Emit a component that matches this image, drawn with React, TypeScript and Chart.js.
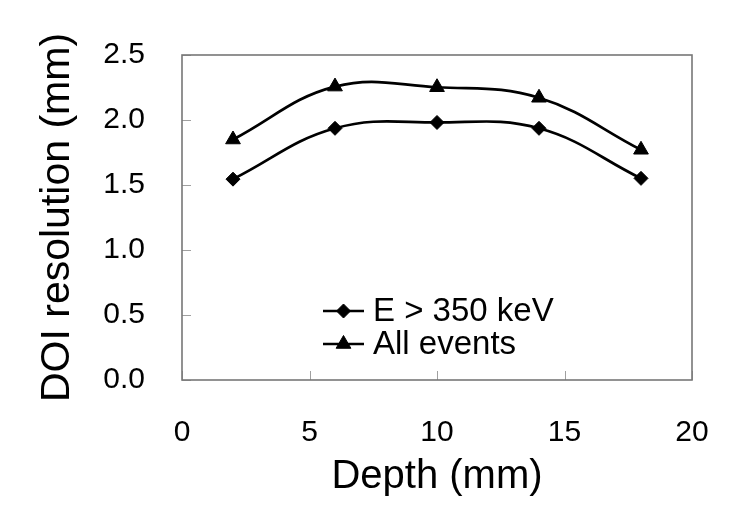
import React, { useEffect, useRef } from "react";
import { Chart, registerables } from "chart.js";

Chart.register(...registerables);

const depths = [2, 6, 10, 14, 18];
const highEnergy = [1.545, 1.936, 1.981, 1.936, 1.551];
const allEvents = [1.85, 2.257, 2.252, 2.171, 1.771];
const seriesLabels = ["E > 350 keV", "All events"];
const xTitle = "Depth (mm)";
const yTitle = "DOI resolution (mm)";

const FONT = "'Liberation Sans', Arial, sans-serif";

function drawMarker(ctx: CanvasRenderingContext2D, style: string, r: number, x: number, y: number) {
  ctx.beginPath();
  if (style === "rectRot") {
    ctx.moveTo(x, y - r);
    ctx.lineTo(x + r, y);
    ctx.lineTo(x, y + r);
    ctx.lineTo(x - r, y);
  } else {
    const a = -Math.PI / 2;
    for (let k = 0; k < 3; k++) {
      const ang = a + (k * 2 * Math.PI) / 3;
      const px = x + Math.cos(ang) * r;
      const py = y + Math.sin(ang) * r;
      if (k === 0) ctx.moveTo(px, py);
      else ctx.lineTo(px, py);
    }
  }
  ctx.closePath();
  ctx.fill();
  ctx.stroke();
}

const framePlugin = {
  id: "frameAndTicks",
  beforeDatasetsDraw(chart: any) {
    const { ctx, chartArea } = chart;
    const xs = chart.scales.x;
    const ys = chart.scales.y;
    ctx.save();
    ctx.strokeStyle = "#a0a0a0";
    ctx.lineWidth = 1;
    xs.ticks.forEach((t: any) => {
      const px = Math.round(xs.getPixelForValue(t.value)) + 0.5;
      ctx.beginPath();
      ctx.moveTo(px, chartArea.bottom);
      ctx.lineTo(px, chartArea.bottom - 9);
      ctx.stroke();
    });
    ys.ticks.forEach((t: any) => {
      const py = Math.round(ys.getPixelForValue(t.value)) + 0.5;
      ctx.beginPath();
      ctx.moveTo(chartArea.left, py);
      ctx.lineTo(chartArea.left + 9, py);
      ctx.stroke();
    });
    ctx.strokeStyle = "#777777";
    ctx.lineWidth = 1.6;
    ctx.strokeRect(chartArea.left, chartArea.top, chartArea.right - chartArea.left, chartArea.bottom - chartArea.top);
    ctx.restore();
  },
};

const legendPlugin = {
  id: "insideLegend",
  afterDatasetsDraw(chart: any) {
    const { ctx, chartArea } = chart;
    const x0 = chartArea.left + 141;
    const lineLen = 41;
    ctx.save();
    chart.data.datasets.forEach((ds: any, i: number) => {
      const y = chartArea.top + 256 + i * 33;
      ctx.strokeStyle = ds.borderColor;
      ctx.lineWidth = ds.borderWidth;
      ctx.beginPath();
      ctx.moveTo(x0, y);
      ctx.lineTo(x0 + lineLen, y);
      ctx.stroke();
      ctx.fillStyle = ds.pointBackgroundColor;
      ctx.strokeStyle = ds.pointBorderColor;
      ctx.lineWidth = 1;
      drawMarker(ctx, ds.pointStyle, ds.pointRadius, x0 + lineLen / 2, y);
      ctx.fillStyle = "#000";
      ctx.font = `33px ${FONT}`;
      ctx.textBaseline = "middle";
      ctx.textAlign = "left";
      ctx.fillText(ds.label, x0 + lineLen + 9, y + 1);
    });
    ctx.restore();
  },
};

export default function App() {
  const ref = useRef<HTMLCanvasElement | null>(null);

  useEffect(() => {
    if (!ref.current) return;
    const chart = new Chart(ref.current, {
      type: "line",
      data: {
        datasets: [
          {
            label: seriesLabels[0],
            data: depths.map((d, i) => ({ x: d, y: highEnergy[i] })),
            borderColor: "#000",
            backgroundColor: "#000",
            borderWidth: 2.7,
            tension: 0.4,
            pointStyle: "rectRot",
            pointRadius: 7,
            pointBackgroundColor: "#000",
            pointBorderColor: "#000",
            pointBorderWidth: 1,
          },
          {
            label: seriesLabels[1],
            data: depths.map((d, i) => ({ x: d, y: allEvents[i] })),
            borderColor: "#000",
            backgroundColor: "#000",
            borderWidth: 2.7,
            tension: 0.4,
            pointStyle: "triangle",
            pointRadius: 8.5,
            pointBackgroundColor: "#000",
            pointBorderColor: "#000",
            pointBorderWidth: 1,
          },
        ],
      },
      options: {
        responsive: false,
        animation: false,
        layout: { padding: { top: 51, right: 58, bottom: 0, left: 0 } },
        plugins: {
          legend: { display: false },
          tooltip: { enabled: false },
        },
        scales: {
          x: {
            type: "linear",
            min: 0,
            max: 20,
            grid: { display: false, drawTicks: false },
            border: { display: false },
            ticks: {
              stepSize: 5,
              padding: 35,
              color: "#000",
              font: { family: FONT, size: 30 },
              maxRotation: 0,
            },
            title: {
              display: true,
              text: xTitle,
              color: "#000",
              font: { family: FONT, size: 40, lineHeight: 1 },
              padding: { top: 0, bottom: 22 },
            },
            afterFit: (s: any) => {
              s.height = 139;
            },
          },
          y: {
            type: "linear",
            min: 0,
            max: 2.5,
            grid: { display: false, drawTicks: false },
            border: { display: false },
            ticks: {
              stepSize: 0.5,
              padding: 37,
              color: "#000",
              font: { family: FONT, size: 30 },
              callback: (v: any) => Number(v).toFixed(1),
            },
            title: {
              display: true,
              text: yTitle,
              color: "#000",
              font: { family: FONT, size: 41, lineHeight: 1 },
              padding: { top: 37, bottom: 0 },
            },
            afterFit: (s: any) => {
              s.width = 182;
            },
          },
        },
      },
      plugins: [framePlugin, legendPlugin],
    });
    return () => chart.destroy();
  }, []);

  return (
    <div style={{ position: "absolute", left: 0, top: 0, width: 750, height: 519, background: "#fff" }}>
      <canvas ref={ref} width={750} height={519} style={{ display: "block" }} />
    </div>
  );
}
